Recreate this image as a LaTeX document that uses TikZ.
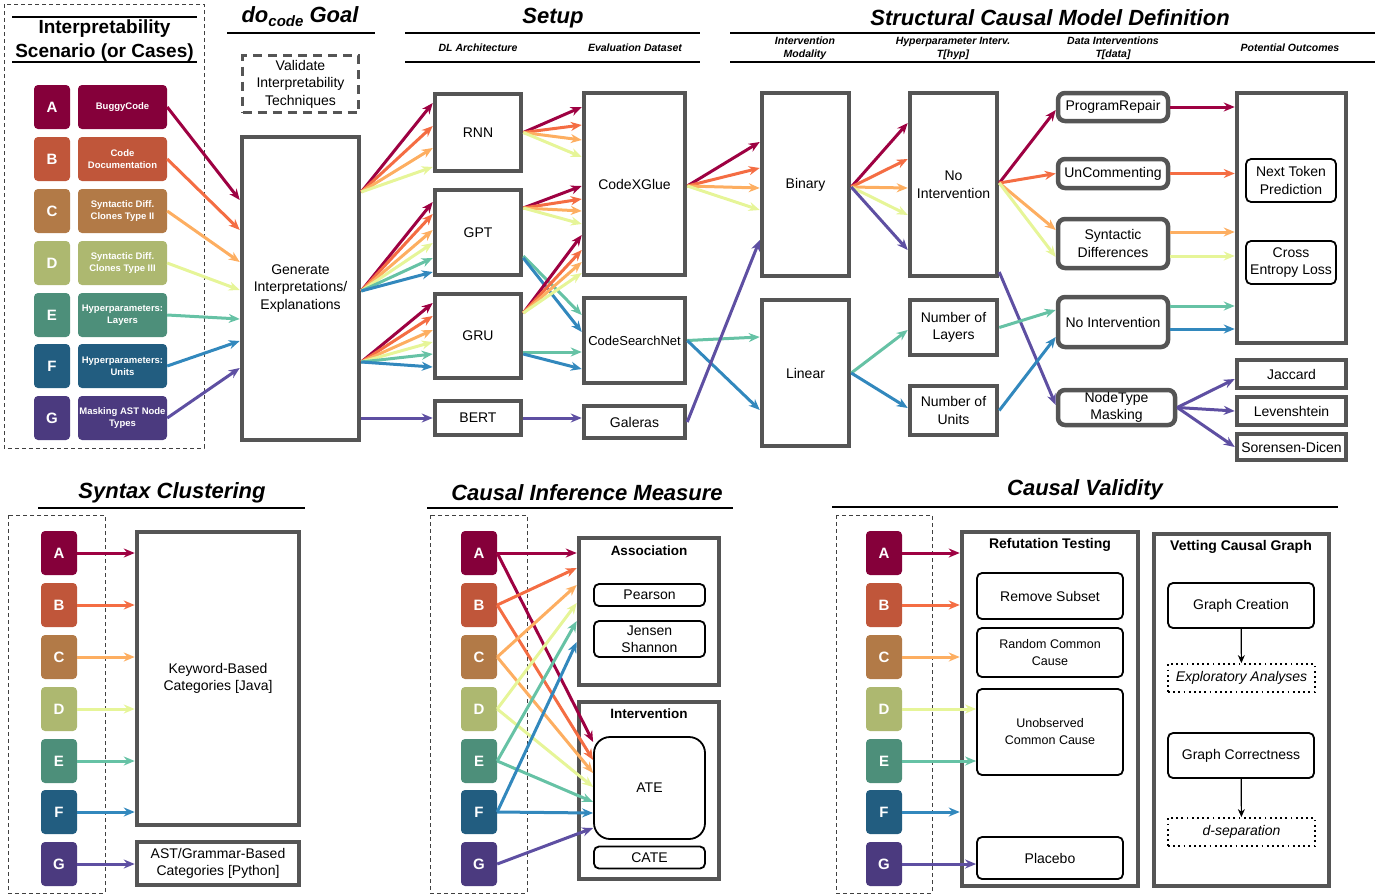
\documentclass[tikz,border=0pt]{standalone}
\usepackage{fontspec}
\setmainfont{Liberation Sans}
\usetikzlibrary{arrows.meta}

\definecolor{cA}{HTML}{9E0142}
\definecolor{cB}{HTML}{F46D43}
\definecolor{cC}{HTML}{FDAE61}
\definecolor{cD}{HTML}{E6F598}
\definecolor{cE}{HTML}{66C2A5}
\definecolor{cF}{HTML}{3288BD}
\definecolor{cG}{HTML}{5E4FA2}
\definecolor{bA}{HTML}{85003A}
\definecolor{bB}{HTML}{C0563A}
\definecolor{bC}{HTML}{B27A47}
\definecolor{bD}{HTML}{ADB870}
\definecolor{bE}{HTML}{4D8F7A}
\definecolor{bF}{HTML}{225D80}
\definecolor{bG}{HTML}{4B3A7F}
\definecolor{bd}{HTML}{555555}

\begin{document}
\begin{tikzpicture}[x=1pt,y=-1pt,>={Stealth[length=11pt,width=9pt]},font=\fontsize{14}{17.5}\selectfont]
\tikzstyle{bx}=[draw=bd,line width=4.5pt,fill=white,align=center,inner sep=1pt]
\tikzstyle{rb}=[bx,rounded corners=7pt]
\tikzstyle{tb}=[draw,line width=1.8pt,rounded corners=5pt,fill=white,align=center,inner sep=1pt]
\tikzstyle{db}=[draw,line width=1.8pt,dash pattern=on 1.8pt off 3.4pt,align=center,inner sep=1pt,font=\fontsize{14}{17.5}\selectfont\itshape]
\tikzstyle{lt}=[rounded corners=4pt,minimum width=36pt,minimum height=44pt,inner sep=0pt,text=white,font=\fontsize{15}{18}\selectfont\bfseries]
\tikzstyle{lb}=[lt,minimum width=89pt,align=center,font=\fontsize{9.5}{12}\selectfont\bfseries]
\tikzstyle{ttl}=[font=\fontsize{22}{26}\selectfont\bfseries\itshape]
\tikzstyle{sub}=[align=center,font=\fontsize{10.5}{13}\selectfont\bfseries\itshape]
\tikzstyle{hd}=[font=\fontsize{13.5}{16}\selectfont\bfseries]
\tikzstyle{ar}=[->,line width=3pt]
\tikzstyle{fr}=[black!75,line width=0.8pt,dash pattern=on 4pt off 3pt]
\useasboundingbox (0,0) rectangle (1383,894);

% interpretability scenarios
\draw[fr] (4,4) rectangle (204,448);
\draw[line width=2pt] (12,17) -- (197,17) (12,62) -- (197,62);
\node[font=\fontsize{19}{24}\selectfont\bfseries,align=center] (scen) at (104.5,40.5) {Interpretability\\Scenario (or Cases)};
\foreach \l/\y/\t in {A/107/BuggyCode,B/159/{Code\\Documentation},C/211/{Syntactic Diff.\\Clones Type II},D/263/{Syntactic Diff.\\Clones Type III},E/315/{Hyperparameters:\\Layers},F/366/{Hyperparameters:\\Units},G/418/{Masking AST Node\\Types}} {
 \node[lt,fill=b\l] (l\l) at (52,\y) {\l};
 \node[lb,fill=b\l] (t\l) at (122.5,\y) {\t};
}

% goal
\node[ttl] (goal) at (300,17) {do{\fontsize{15}{15}\selectfont\raisebox{-4pt}{code}} Goal};
\draw[line width=2pt] (227,33) -- (375,33);
\node[bx,fill=none,line width=3pt,dash pattern=on 9pt off 6pt,minimum width=116pt,minimum height=57pt] (val) at (300.5,84) {Validate\\Interpretability\\Techniques};
\node[bx,minimum width=117pt,minimum height=303pt] (gen) at (300.5,288.5) {Generate\\Interpretations/\\Explanations};

% setup
\node[ttl] (setup) at (553,18) {Setup};
\draw[line width=2pt] (405,33) -- (700,33) (405,62) -- (700,62);
\node[sub] (arch) at (478,48) {DL Architecture};
\node[sub] (eval) at (635,48) {Evaluation Dataset};
\node[bx,minimum width=86pt,minimum height=77pt] (rnn) at (478,132.5) {RNN};
\node[bx,minimum width=86pt,minimum height=85pt] (gpt) at (478,232.5) {GPT};
\node[bx,minimum width=86pt,minimum height=84pt] (gru) at (478,336) {GRU};
\node[bx,minimum width=86pt,minimum height=34pt] (bert) at (478,418) {BERT};
\node[bx,minimum width=101pt,minimum height=182pt] (cxg) at (634.5,184) {CodeXGlue};
\node[bx,minimum width=101pt,minimum height=85pt,font=\fontsize{13}{16}\selectfont] (csn) at (634.5,340.5) {CodeSearchNet};
\node[bx,minimum width=101pt,minimum height=32pt] (gal) at (634.5,422) {Galeras};

% structural causal model
\node[ttl] (scm) at (1050,18) {Structural Causal Model Definition};
\draw[line width=2pt] (730,33) -- (1375,33) (730,62) -- (1375,62);
\node[sub] (modl) at (805,48) {Intervention\\Modality};
\node[sub] (hyp) at (953,48) {Hyperparameter Interv.\\T[hyp]};
\node[sub] (dat) at (1113,48) {Data Interventions\\T[data]};
\node[sub] (outc) at (1290,48) {Potential Outcomes};
\node[bx,minimum width=87pt,minimum height=183pt] (bin) at (805.5,184.5) {Binary};
\node[bx,minimum width=87pt,minimum height=146pt] (lin) at (805.5,373) {Linear};
\node[bx,minimum width=87pt,minimum height=183pt] (hno) at (953.5,184.5) {No\\Intervention};
\node[bx,minimum width=87pt,minimum height=55pt] (lay) at (953.5,327.5) {Number of\\Layers};
\node[bx,minimum width=87pt,minimum height=49pt] (uni) at (953.5,410.5) {Number of\\Units};
\node[rb,minimum width=110pt,minimum height=28pt] (prp) at (1113,107) {ProgramRepair};
\node[rb,minimum width=110pt,minimum height=29pt] (unc) at (1113,173.5) {UnCommenting};
\node[rb,minimum width=110pt,minimum height=49pt] (syn) at (1113,243.5) {Syntactic\\Differences};
\node[rb,minimum width=110pt,minimum height=50pt] (dno) at (1113,322) {No Intervention};
\node[rb,minimum width=117pt,minimum height=35pt] (ntm) at (1116.5,407.5) {NodeType\\Masking};
\node[bx,minimum width=109pt,minimum height=250pt] (pot) at (1291.5,218) {};
\node[tb,minimum width=90pt,minimum height=43pt] (ntp) at (1291,180.5) {Next Token\\Prediction};
\node[tb,minimum width=90pt,minimum height=43pt] (cel) at (1291,262.5) {Cross\\Entropy Loss};
\node[bx,minimum width=109pt,minimum height=28pt] (jac) at (1291.5,374) {Jaccard};
\node[bx,minimum width=109pt,minimum height=28pt] (lev) at (1291.5,411) {Levenshtein};
\node[bx,minimum width=109pt,minimum height=26pt] (sor) at (1291.5,447) {Sorensen-Dicen};

% top connectors
\foreach \l/\y in {A/200,B/230,C/262,D/290,E/319,F/341,G/368}
 \draw[ar,color=c\l] (t\l.east) -- (gen.west |- 0,\y);
\foreach \l/\y in {A/103,B/126,C/148,D/167}
 \draw[ar,color=c\l] (gen.east |- 0,192) -- (rnn.west |- 0,\y);
\foreach \l/\y in {A/202,B/214,C/230,D/243,E/258,F/272}
 \draw[ar,color=c\l] (gen.east |- 0,291) -- (gpt.west |- 0,\y);
\foreach \l/\y in {A/303,B/316,C/330,D/342,E/354,F/367}
 \draw[ar,color=c\l] (gen.east |- 0,362) -- (gru.west |- 0,\y);
\draw[ar,color=cG] (gen.east |- bert.west) -- (bert.west);
\foreach \l/\y in {A/107,B/125,C/140,D/157}
 \draw[ar,color=c\l] (rnn.east) -- (cxg.west |- 0,\y);
\foreach \l/\y in {A/186,B/199,C/211,D/224}
 \draw[ar,color=c\l] (gpt.east |- 0,208) -- (cxg.west |- 0,\y);
\draw[ar,color=cE] (gpt.east |- 0,256) -- (csn.west |- 0,315);
\draw[ar,color=cF] (gpt.east |- 0,258) -- (csn.west |- 0,332);
\foreach \l/\y in {A/235,B/250,C/262,D/273}
 \draw[ar,color=c\l] (gru.east |- 0,313) -- (cxg.west |- 0,\y);
\draw[ar,color=cE] (gru.east |- 0,352) -- (csn.west |- 0,352);
\draw[ar,color=cF] (gru.east |- 0,354) -- (csn.west |- 0,369);
\draw[ar,color=cG] (bert.east) -- (gal.west |- bert.east);
\foreach \l/\y in {A/142,B/168,C/188,D/210}
 \draw[ar,color=c\l] (cxg.east |- 0,186) -- (bin.west |- 0,\y);
\draw[ar,color=cE] (csn.east) -- (lin.west |- 0,337);
\draw[ar,color=cF] (csn.east) -- (lin.west |- 0,410);
\draw[ar,color=cG] (gal.east) -- (bin.west |- 0,240);
\foreach \l/\y in {A/123,B/159,C/188,D/215,G/250}
 \draw[ar,color=c\l] (bin.east |- 0,187) -- (hno.west |- 0,\y);
\draw[ar,color=cE] (lin.east) -- (lay.west |- 0,330);
\draw[ar,color=cF] (lin.east) -- (uni.west |- 0,408);
\draw[ar,color=cA] (hno.east |- 0,183) -- (prp.west |- 0,110);
\draw[ar,color=cB] (hno.east |- 0,183) -- (unc.west);
\draw[ar,color=cC] (hno.east |- 0,183) -- (syn.west |- 0,230);
\draw[ar,color=cD] (hno.east |- 0,183) -- (syn.west |- 0,257);
\draw[ar,color=cG] (hno.east |- 0,272) -- (ntm.west |- 0,405);
\draw[ar,color=cE] (lay.east) -- (dno.west |- 0,310);
\draw[ar,color=cF] (uni.east) -- (dno.west |- 0,337);
\draw[ar,color=cA] (prp.east) -- (pot.west |- prp.east);
\draw[ar,color=cB] (unc.east) -- (pot.west |- unc.east);
\draw[ar,color=cC] (syn.east |- 0,232) -- (pot.west |- 0,232);
\draw[ar,color=cD] (syn.east |- 0,256) -- (pot.west |- 0,256);
\draw[ar,color=cE] (dno.east |- 0,306) -- (pot.west |- 0,306);
\draw[ar,color=cF] (dno.east |- 0,329) -- (pot.west |- 0,329);
\foreach \n/\y in {jac/379,lev/411,sor/447}
 \draw[ar,color=cG] (ntm.east) -- (\n.west |- 0,\y);

% bottom letters
\foreach \l/\y in {A/553,B/605,C/657,D/709,E/761,F/812,G/864} {
 \node[lt,fill=b\l] (s\l) at (59,\y) {\l};
 \node[lt,fill=b\l] (i\l) at (479,\y) {\l};
 \node[lt,fill=b\l] (v\l) at (884,\y) {\l};
}

% syntax clustering
\node[ttl] (synt) at (172,493) {Syntax Clustering};
\draw[line width=2pt] (38,508) -- (305,508);
\draw[fr] (8,515) rectangle (105,893);
\node[bx,minimum width=162pt,minimum height=293pt] (kw) at (218,678.5) {Keyword-Based\\Categories [Java]};
\node[bx,minimum width=162pt,minimum height=43pt] (ast) at (218,863.5) {AST/Grammar-Based\\Categories [Python]};
\foreach \l in {A,B,C,D,E,F}
 \draw[ar,color=c\l] (s\l.east) -- (kw.west |- s\l.east);
\draw[ar,color=cG] (sG.east) -- (ast.west |- sG.east);

% causal inference measure
\node[ttl] (cim) at (587,493) {Causal Inference Measure};
\draw[line width=2pt] (427,508) -- (733,508);
\draw[fr] (430,515) rectangle (527,893);
\node[bx,minimum width=140pt,minimum height=147pt] (aso) at (649,611.5) {};
\node[hd] (asot) at (649,551) {Association};
\node[tb,minimum width=111pt,minimum height=22pt] (pea) at (649.5,595) {Pearson};
\node[tb,minimum width=111pt,minimum height=36pt] (jen) at (649.5,639) {Jensen\\Shannon};
\node[bx,minimum width=140pt,minimum height=177pt] (itv) at (649,790.5) {};
\node[hd] (itvt) at (649,714) {Intervention};
\node[tb,rounded corners=16pt,minimum width=111pt,minimum height=102pt] (ate) at (649.5,788) {ATE};
\node[tb,minimum width=111pt,minimum height=22pt] (cat) at (649.5,857.5) {CATE};
\foreach \l/\p/\q in {A/553/742,B/568/760,C/585/773,D/603/787,E/621/802,F/642/813} {
 \draw[ar,color=c\l] (i\l.east) -- (aso.west |- 0,\p);
 \draw[ar,color=c\l] (i\l.east) -- (ate.west |- 0,\q);
}
\draw[ar,color=cG] (iG.east) -- (ate.west |- 0,828);

% causal validity
\node[ttl] (cv) at (1085,490) {Causal Validity};
\draw[line width=2pt] (832,507) -- (1338,507);
\draw[fr] (836,515) rectangle (932,893);
\node[bx,minimum width=176pt,minimum height=354pt] (ref) at (1050,709) {};
\node[hd,font=\fontsize{14}{17}\selectfont\bfseries] (reft) at (1050,545) {Refutation Testing};
\node[tb,minimum width=146pt,minimum height=46pt] (rms) at (1050,596) {Remove Subset};
\node[tb,minimum width=146pt,minimum height=49pt,font=\fontsize{12.5}{17}\selectfont] (rcc) at (1050,652.5) {Random Common\\Cause};
\node[tb,minimum width=146pt,minimum height=86pt,font=\fontsize{12.5}{17}\selectfont] (uoc) at (1050,732) {Unobserved\\Common Cause};
\node[tb,minimum width=146pt,minimum height=42pt] (pla) at (1050,858) {Placebo};
\node[bx,minimum width=175pt,minimum height=352pt] (vet) at (1241.5,710) {};
\node[hd,font=\fontsize{14}{17}\selectfont\bfseries] (vett) at (1241,547) {Vetting Causal Graph};
\node[tb,minimum width=146pt,minimum height=45pt] (gcr) at (1241,605.5) {Graph Creation};
\node[db,minimum width=147pt,minimum height=28pt] (exa) at (1241.5,678) {Exploratory Analyses};
\node[tb,minimum width=146pt,minimum height=45pt] (gco) at (1241,755.5) {Graph Correctness};
\node[db,minimum width=147pt,minimum height=28pt] (dse) at (1241.5,832) {d-separation};
\draw[-{Stealth[length=8pt,width=7pt]},line width=1.2pt] (gcr) -- (exa);
\draw[-{Stealth[length=8pt,width=7pt]},line width=1.2pt] (gco) -- (dse);
\foreach \l/\n in {A/ref,B/ref,C/ref,D/uoc,E/uoc,F/ref,G/pla}
 \draw[ar,color=c\l] (v\l.east) -- (\n.west |- v\l.east);
\end{tikzpicture}
\end{document}
